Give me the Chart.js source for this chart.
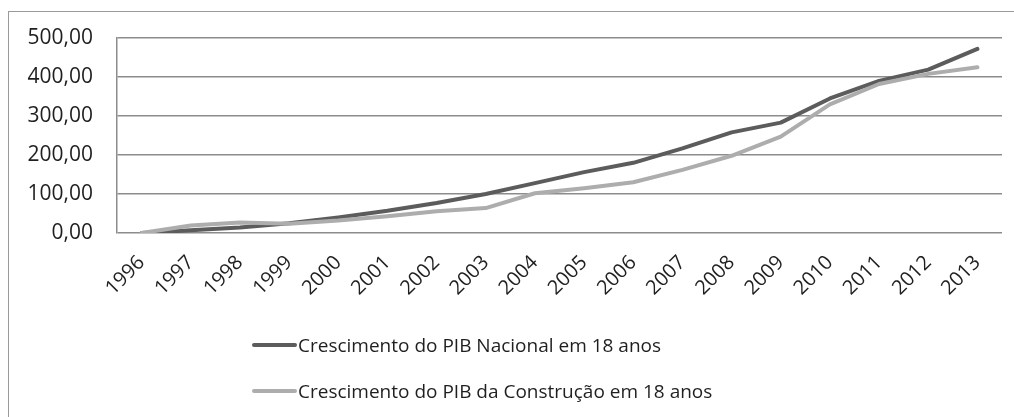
<!DOCTYPE html>
<html>
<head>
<meta charset="utf-8">
<script src="https://cdn.jsdelivr.net/npm/chart.js@4/dist/chart.umd.min.js"></script>
<style>
  html, body { margin: 0; padding: 0; background: #fff; }
  body { width: 1014px; height: 417px; position: relative; overflow: hidden; }
  #frame { position: absolute; left: 8px; top: 11px; right: 0; bottom: 0;
           border-left: 1.5px solid #9a9a9a; border-top: 1.5px solid #9a9a9a; }
  #wrap { position: absolute; left: 0; top: 0; width: 1014px; height: 417px; }
  #legend { position: absolute; left: 252px; top: 322px; font-family: "Open Sans", sans-serif;
            font-size: 19px; color: #1f1f1f; }
  .item { display: flex; align-items: center; height: 46px; white-space: nowrap; }
  .swatch { width: 45px; height: 4px; border-radius: 2px; margin-right: 1px; }
</style>
</head>
<body>
<div id="frame"></div>
<div id="wrap"><canvas id="chart" width="1014" height="417"></canvas></div>
<div id="legend"></div>
<script>
// categories and values
const years = ["1996", "1997", "1998", "1999", "2000", "2001", "2002", "2003", "2004",
               "2005", "2006", "2007", "2008", "2009", "2010", "2011", "2012", "2013"];
const pibNacional = [0, 7, 14, 25, 40, 57, 77, 100, 128, 156, 180, 217, 258, 283, 345, 390, 419, 472];
const pibConstrucao = [0, 19, 27, 24, 32, 43, 56, 64, 102, 115, 130, 162, 198, 247, 330, 382, 408, 425];
const seriesNames = ["Crescimento do PIB Nacional em 18 anos", "Crescimento do PIB da Construção em 18 anos"];
const yMin = 0, yMax = 500, yStep = 100;

var ctx = document.getElementById("chart").getContext("2d");
var chart = new Chart(ctx, {
    type: "line",
    data: {
        labels: years,
        datasets: [{
            label: seriesNames[0],
            data: pibNacional,
            borderColor: "#5c5c5c",
            backgroundColor: "#5c5c5c",
            borderWidth: 4,
            pointRadius: 0,
            borderCapStyle: "round",
            borderJoinStyle: "round",
            order: 1
        }, {
            label: seriesNames[1],
            data: pibConstrucao,
            borderColor: "#adadad",
            backgroundColor: "#adadad",
            borderWidth: 4,
            pointRadius: 0,
            borderCapStyle: "round",
            borderJoinStyle: "round",
            order: 0
        }]
    },
    options: {
        responsive: false,
        animation: false,
        layout: { padding: { left: 0, top: 38, right: 12, bottom: 0 } },
        plugins: {
            legend: { display: false },
            tooltip: { enabled: false }
        },
        scales: {
            x: {
                offset: true,
                grid: { display: false, drawTicks: false },
                border: { display: false },
                ticks: {
                    font: { family: "'Open Sans', sans-serif", size: 20 }, color: "#1f1f1f",
                    minRotation: 45, maxRotation: 45, padding: 18, autoSkip: false
                },
                afterFit: function(scale) { scale.height = 184; }
            },
            y: {
                min: yMin, max: yMax,
                grid: { color: "#8c8c8c", lineWidth: 1.5, drawTicks: false },
                border: { display: true, color: "#8c8c8c", width: 1.5 },
                ticks: {
                    stepSize: yStep, font: { family: "'Open Sans', sans-serif", size: 21 },
                    color: "#1f1f1f", padding: 24,
                    callback: function(v) { return v.toFixed(2).replace(".", ","); }
                },
                afterFit: function(scale) { scale.width = 117; }
            }
        }
    }
});

// legend as a vertical list under the chart, built from the datasets
var legendEl = document.getElementById("legend");
chart.data.datasets.forEach(function(ds) {
    var row = document.createElement("div");
    row.className = "item";
    var sw = document.createElement("span");
    sw.className = "swatch";
    sw.style.background = ds.borderColor;
    var label = document.createElement("span");
    label.textContent = ds.label;
    row.appendChild(sw);
    row.appendChild(label);
    legendEl.appendChild(row);
});
</script>
</body>
</html>
